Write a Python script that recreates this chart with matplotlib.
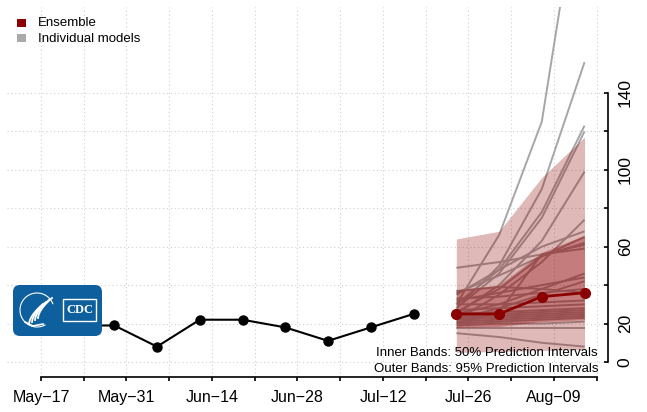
import numpy as np
import pandas as pd
import matplotlib
matplotlib.use("Agg")
import matplotlib.pyplot as plt
import matplotlib.dates as mdates
from matplotlib.patches import Rectangle, FancyBboxPatch, Arc

plt.rcParams['font.family'] = ['Liberation Sans', 'DejaVu Sans']

# ---------------- data ----------------
obs_dates = ["2021-05-22", "2021-05-29", "2021-06-05", "2021-06-12", "2021-06-19",
             "2021-06-26", "2021-07-03", "2021-07-10", "2021-07-17"]
obs_values = [19, 19, 8, 22, 22, 18, 11, 18, 25]

fc_dates = ["2021-07-24", "2021-07-31", "2021-08-07", "2021-08-14"]
ens_values = [25, 25, 34, 36]
ens_lo50 = [18, 18.5, 21, 22]
ens_hi50 = [37.5, 40, 57, 66]
ens_lo95 = [5, 5.5, 6, 6.5]
ens_hi95 = [64, 68, 96, 117]

model_forecasts = [
    [30, 66, 125, 265],
    [28, 50, 90, 156],
    [30, 48, 78, 123],
    [28, 46, 75, 120],
    [25, 40, 63, 99],
    [22, 35, 52, 74],
    [35, 48, 60, 68],
    [26, 38, 55, 65],
    [49, 52, 56, 59],
    [36, 45, 55, 62],
    [20, 26, 56, 61],
    [37, 39, 38, 36],
    [25, 30, 38, 46],
    [22, 28, 35, 42],
    [33, 34, 36, 38],
    [32, 36, 40, 44],
    [30, 30, 31, 32],
    [27, 28, 29, 30],
    [25, 26, 27, 28],
    [24, 25, 26, 27],
    [23, 24, 25, 26],
    [22, 23, 24, 25],
    [21, 22, 23, 24],
    [20, 21, 22, 23],
    [19, 20, 20, 21],
    [17.5, 17.5, 17.5, 17.5],
    [15, 13, 10, 8],
]

tick_start = "2021-05-17"
tick_end = "2021-08-16"
tick_labels = ["May\u221217", "", "May\u221231", "", "Jun\u221214", "", "Jun\u221228", "",
               "Jul\u221212", "", "Jul\u221226", "", "Aug\u221209", ""]
y_ticks = [0, 20, 40, 60, 80, 100, 120, 140]
y_tick_labels = ["0", "20", "", "60", "", "100", "", "140"]

# ---------------- figure ----------------
W, H = 647, 412
fig = plt.figure(figsize=(W / 100, H / 100), dpi=100)

def fx(x):
    return x / W

def fy(y):
    return 1 - y / H

ax = fig.add_axes([fx(7), fy(377), (608 - 7) / W, (377 - 7) / H])

obs_x = mdates.date2num(pd.to_datetime(obs_dates))
fc_x = mdates.date2num(pd.to_datetime(fc_dates))
ticks = mdates.date2num(pd.date_range(tick_start, tick_end, freq="7D"))
t0 = ticks[0]
px_per_day = 42.75 / 7
ax.set_xlim(t0 - 34 / px_per_day, t0 - 34 / px_per_day + 601 / px_per_day)
ax.set_ylim(-15 / 1.922, 355 / 1.922)

# grid
grid_kw = dict(color="#cfcfcf", linestyle=(0, (1, 2.5)), linewidth=0.8, zorder=0)
for t in ticks:
    ax.axvline(t, **grid_kw)
for yv in y_ticks:
    ax.axhline(yv, **grid_kw)

# individual models
for m in model_forecasts:
    ax.plot(fc_x, m, color="#a6a6a6", lw=1.4, zorder=1, solid_capstyle="butt")

# bands
ax.fill_between(fc_x, ens_lo95, ens_hi95, color=(0.55, 0, 0), alpha=0.28, lw=0, zorder=2)
ax.fill_between(fc_x, ens_lo50, ens_hi50, color=(0.55, 0, 0), alpha=0.32, lw=0, zorder=3)

# ensemble
ax.plot(fc_x, ens_values, color="#8b0000", lw=2.0, marker="o", ms=7, zorder=5)
# observed
ax.plot(obs_x, obs_values, color="black", lw=1.5, marker="o", ms=6.5, zorder=5)

# axes styling
for s in ["top", "left"]:
    ax.spines[s].set_visible(False)
ax.spines["bottom"].set_bounds(ticks[0], ticks[-1])
ax.spines["right"].set_bounds(0, 140)
ax.spines["bottom"].set_linewidth(1.2)
ax.spines["right"].set_linewidth(1.2)

ax.set_xticks(ticks)
ax.set_xticklabels(tick_labels, fontsize=11.5)
ax.tick_params(axis="x", direction="out", length=3, width=1.2, pad=6.5)

ax.yaxis.tick_right()
ax.set_yticks(y_ticks)
ax.set_yticklabels(y_tick_labels, fontsize=12.5, rotation=90, va="center")
ax.tick_params(axis="y", direction="in", length=3, width=1.2, pad=7)

# band note
fig.text(fx(598), fy(353), "Inner Bands: 50% Prediction Intervals", ha="right", va="center", fontsize=9.5)
fig.text(fx(598), fy(369), "Outer Bands: 95% Prediction Intervals", ha="right", va="center", fontsize=9.5)

# legend
fig.add_artist(Rectangle((fx(17), fy(27)), 9 / W, 8 / H, transform=fig.transFigure,
                         facecolor="#8b0000", edgecolor="none"))
fig.add_artist(Rectangle((fx(17), fy(42)), 9 / W, 8 / H, transform=fig.transFigure,
                         facecolor="#aaaaaa", edgecolor="none"))
fig.text(fx(38), fy(23), "Ensemble", va="center", fontsize=9.5)
fig.text(fx(38), fy(38.5), "Individual models", va="center", fontsize=9.5)

# logo
lax = fig.add_axes([fx(13), fy(336), 89 / W, 51 / H])
lax.set_xlim(0, 89)
lax.set_ylim(0, 51)
lax.axis("off")
lax.add_patch(FancyBboxPatch((0, 0), 89, 51, boxstyle="round,pad=0,rounding_size=7",
                             facecolor="#0e5f9e", edgecolor="none"))
lax.add_patch(Arc((24, 26), 34, 34, theta1=20, theta2=300, color="white", lw=0.8))
th = np.linspace(0, 1, 30)
for k in range(4):
    xs = 16 + k * 3 + 14 * th
    ys = 12 + k * 2 + 20 * th ** 0.6
    lax.plot(xs, ys, color="white", lw=1.3)
lax.plot([12, 20, 30], [14, 10, 12], color="white", lw=1.2)
lax.add_patch(Rectangle((50, 15), 33, 22, facecolor="#0e5f9e", edgecolor="white", lw=1.0))
lax.text(66.5, 26, "CDC", color="white", fontsize=9, fontweight="bold",
         family=["Liberation Serif", "DejaVu Serif"], ha="center", va="center")

fig.savefig("out.png", dpi=100)
